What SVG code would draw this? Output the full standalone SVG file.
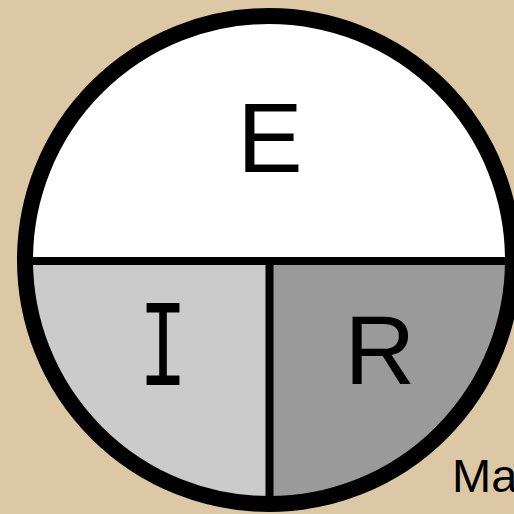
<svg xmlns="http://www.w3.org/2000/svg" width="514" height="514" viewBox="0 0 514 514">
<style>
.lbl{font-family:"Liberation Sans",Arial,sans-serif;font-size:98px;fill:#000;text-anchor:middle}
.mono{font-family:"Liberation Mono","DejaVu Sans Mono",monospace;font-size:124px;fill:#000;text-anchor:middle}
.cap{font-family:"Liberation Sans",Arial,sans-serif;font-size:47px;fill:#000}
.div{stroke:#000;stroke-width:8;fill:none}
</style>
<rect width="514" height="514" fill="#dcc8a5"/>
<g id="E">
<path d="M25,260 A244,244 0 0 1 513,260 Z" fill="#ffffff"/>
<text class="lbl" x="270" y="172">E</text>
</g>
<g id="I">
<path d="M25,260 A244,244 0 0 0 269,504 L269,260 Z" fill="#cbcbcb"/>
<text class="mono" transform="translate(163,385) scale(0.66,1)" x="0" y="0">I</text>
</g>
<g id="R">
<path d="M269,260 L269,504 A244,244 0 0 0 513,260 Z" fill="#9a9a9a"/>
<text class="lbl" x="380" y="384">R</text>
</g>
<g id="connectors">
<line class="div" x1="25" y1="261" x2="513" y2="261"/>
<line class="div" x1="269.5" y1="261" x2="269.5" y2="504"/>
<circle cx="269" cy="260" r="244" fill="none" stroke="#000" stroke-width="16"/>
</g>
<text class="cap" x="452" y="492">Ma</text>
</svg>
